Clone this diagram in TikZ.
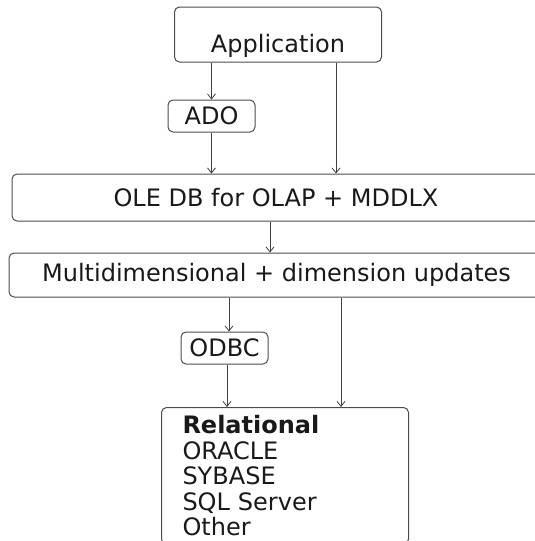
\documentclass[tikz,border=0pt]{standalone}
\usepackage{fontspec}
\setmainfont{DejaVu Sans}
\usetikzlibrary{arrows.meta}

\begin{document}
\begin{tikzpicture}[x=1pt, y=-1pt,
  box/.style={draw=black!70, line width=1pt, rounded corners=5pt, inner sep=0pt, text=black!90, font=\fontsize{24}{25.5}\selectfont},
  arr/.style={draw=black!75, line width=0.8pt, -{Straight Barb[length=5pt,width=8pt]}}]

\useasboundingbox (0,0) rectangle (535,541);
\clip (0,0) rectangle (535,541);

\node[box, minimum width=207pt, minimum height=55pt, text height=35pt, text depth=0pt] (app) at (278,34.5) {Application};

\node[box, minimum width=87pt, minimum height=32pt] (ado) at (211.5,116) {ADO};

\node[box, minimum width=528pt, minimum height=47pt] (ole) at (276,197.5) {OLE DB for OLAP + MDDLX};% runs off the right edge

\node[box, minimum width=535pt, minimum height=44pt] (multi) at (276.5,275) {Multidimensional + dimension updates};

\node[box, minimum width=87pt, minimum height=32pt] (odbc) at (224.5,348) {ODBC};

\node[box, anchor=north west, text width=205pt, inner xsep=21pt, inner ysep=8pt, align=left] (rel) at (161,407) {\textbf{Relational}\\ORACLE\\SYBASE\\SQL Server\\Other};

\draw[arr] (app.south -| ado.north) -- (ado.north);
\draw[arr] (ado.south) -- (ado.south |- ole.north);
\draw[arr] ([xshift=58pt]app.south) -- ([xshift=58pt]app.south |- ole.north);

\draw[arr] ([xshift=-6pt]ole.south) -- ([xshift=-6pt]ole.south |- multi.north);

\draw[arr] ([xshift=-47.5pt]multi.south) -- ([xshift=-47.5pt]multi.south |- odbc.north);
\draw[arr] ([xshift=2.5pt]odbc.south) -- ([xshift=2.5pt]odbc.south |- rel.north);
\draw[arr] ([xshift=64.5pt]multi.south) -- ([xshift=64.5pt]multi.south |- rel.north);
\end{tikzpicture}
\end{document}
